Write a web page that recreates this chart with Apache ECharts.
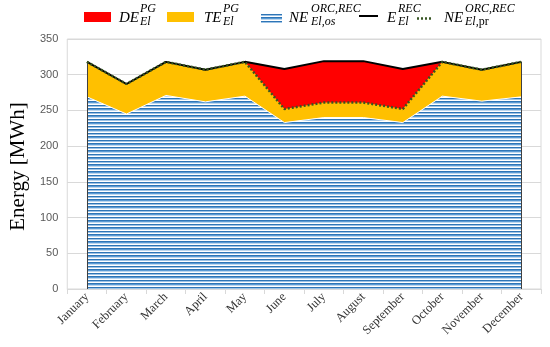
<!DOCTYPE html>
<html>
<head>
<meta charset="utf-8">
<script src="https://cdn.jsdelivr.net/npm/echarts@6/dist/echarts.min.js"></script>
<style>html,body{margin:0;padding:0;background:#fff;}#c{width:550px;height:347px;}</style>
</head>
<body>
<div id="c"></div>
<script>
var months = ['January','February','March','April','May','June','July','August','September','October','November','December'];
// E_El^REC (top black line)
var eRec  = [318, 287, 318, 307, 318, 308, 319, 319, 308, 318, 307, 318];
// NE_El,pr^ORC,REC (dotted line)
var nePr  = [318, 287, 318, 307, 318, 252, 261, 261, 252, 318, 307, 318];
// NE_El,os^ORC,REC (striped area)
var neOs  = [269, 245, 271, 262, 270, 233, 240, 240, 233, 270, 263, 269];
var yTicks = [0, 50, 100, 150, 200, 250, 300, 350];

function stripe(){
  var c = document.createElement('canvas');
  c.width = 8; c.height = 7;
  var g = c.getContext('2d');
  var rows = ['#2E75B6','#9DC3E6','#ffffff','#2E75B6','#5B9BD5','#BDD7EE','#ffffff'];
  for (var i=0;i<rows.length;i++){ g.fillStyle = rows[i]; g.fillRect(0,i,8,1); }
  return c;
}
var pat = {image: stripe(), repeat: 'repeat'};

var chart = echarts.init(document.getElementById('c'), null, {renderer:'canvas'});
var serif = '"Liberation Serif","Times New Roman",serif';
var mainF = 'italic 15px ' + serif;
var smallF = 'italic 12px ' + serif;
function t(x,y,txt,font){ return {type:'text', style:{x:x,y:y,text:txt,font:font,fill:'#000',textVerticalAlign:'middle'}}; }

var graphics = [
  {type:'rect', shape:{x:84,y:12,width:27,height:10}, style:{fill:'#FF0000'}},
  t(119,18.5,'DE',mainF), t(140,8.5,'PG',smallF), t(140,21.5,'El',smallF),
  {type:'rect', shape:{x:167,y:12,width:27,height:10}, style:{fill:'#FFC000'}},
  t(204,18.5,'TE',mainF), t(223,8.5,'PG',smallF), t(223,21.5,'El',smallF),
  {type:'rect', shape:{x:261,y:13,width:21,height:10}, style:{fill:pat}},
  t(289,18.5,'NE',mainF), t(311,9,'ORC,REC',smallF), t(311,21.5,'El,os',smallF),
  {type:'line', shape:{x1:359,y1:16,x2:378,y2:16}, style:{stroke:'#000',lineWidth:2}},
  t(387,18.5,'E',mainF), t(398,9,'REC',smallF), t(398,21.5,'El',smallF),
  {type:'line', shape:{x1:417,y1:18.5,x2:433,y2:18.5}, style:{stroke:'#375623',lineWidth:2.5,lineDash:[2,2]}},
  t(444,18.5,'NE',mainF), t(465,9,'ORC,REC',smallF),
  {type:'text', style:{x:465,y:21.5,text:'{i|El,}{u|pr}',textVerticalAlign:'middle',rich:{i:{font:smallF,fill:'#000'},u:{font:'12px '+serif,fill:'#000'}}}}
];

chart.setOption({
  animation:false,
  backgroundColor:'#fff',
  graphic: graphics,
  grid:{left:55, right:9, top:39, bottom:58, show:true, borderColor:'#D9D9D9', borderWidth:1},
  xAxis:{type:'category', data:months, boundaryGap:true,
    axisLine:{lineStyle:{color:'#D9D9D9'}},
    axisTick:{show:true, length:5, lineStyle:{color:'#D9D9D9'}},
    axisLabel:{rotate:45, interval:0, fontFamily:serif, fontSize:12.5, color:'#333', margin:6}},
  yAxis:{type:'value', min:0, max:350, interval:50,
    name:'Energy [MWh]', nameLocation:'middle', nameGap:32, nameRotate:90,
    nameTextStyle:{fontFamily:serif, fontSize:21, color:'#000', padding:[0,5,0,0]},
    axisLine:{show:false}, axisTick:{show:false},
    splitLine:{lineStyle:{color:'#D9D9D9'}},
    axisLabel:{fontFamily:'"Liberation Sans",Arial,sans-serif', fontSize:11, color:'#595959', margin:9,
      formatter:function(v){ return yTicks.indexOf(v)>=0 ? String(v) : ''; }}},
  series:[
    {name:'DE', type:'line', data:eRec, symbol:'none', lineStyle:{width:0}, areaStyle:{color:'#FF0000', opacity:1}, z:1},
    {name:'TE', type:'line', data:nePr, symbol:'none', lineStyle:{width:0}, areaStyle:{color:'#FFC000', opacity:1}, z:2},
    {name:'NEos', type:'line', data:neOs, symbol:'none', lineStyle:{width:1, color:'#ffffff'}, areaStyle:{color:pat, opacity:1}, z:3},
    {name:'E', type:'line', data:eRec, symbol:'none', lineStyle:{width:2, color:'#000'}, z:5,
      markLine:{silent:true, symbol:'none', label:{show:false}, lineStyle:{color:'#404040', width:1, type:'solid'},
        data:[[{coord:[months[0],0]},{coord:[months[0],eRec[0]]}],[{coord:[months[11],0]},{coord:[months[11],eRec[11]]}]]}},
    {name:'NEpr', type:'line', data:nePr, symbol:'none', lineStyle:{width:2.5, color:'#375623', type:[2,2]}, z:6}
  ]
});
</script>
</body>
</html>
